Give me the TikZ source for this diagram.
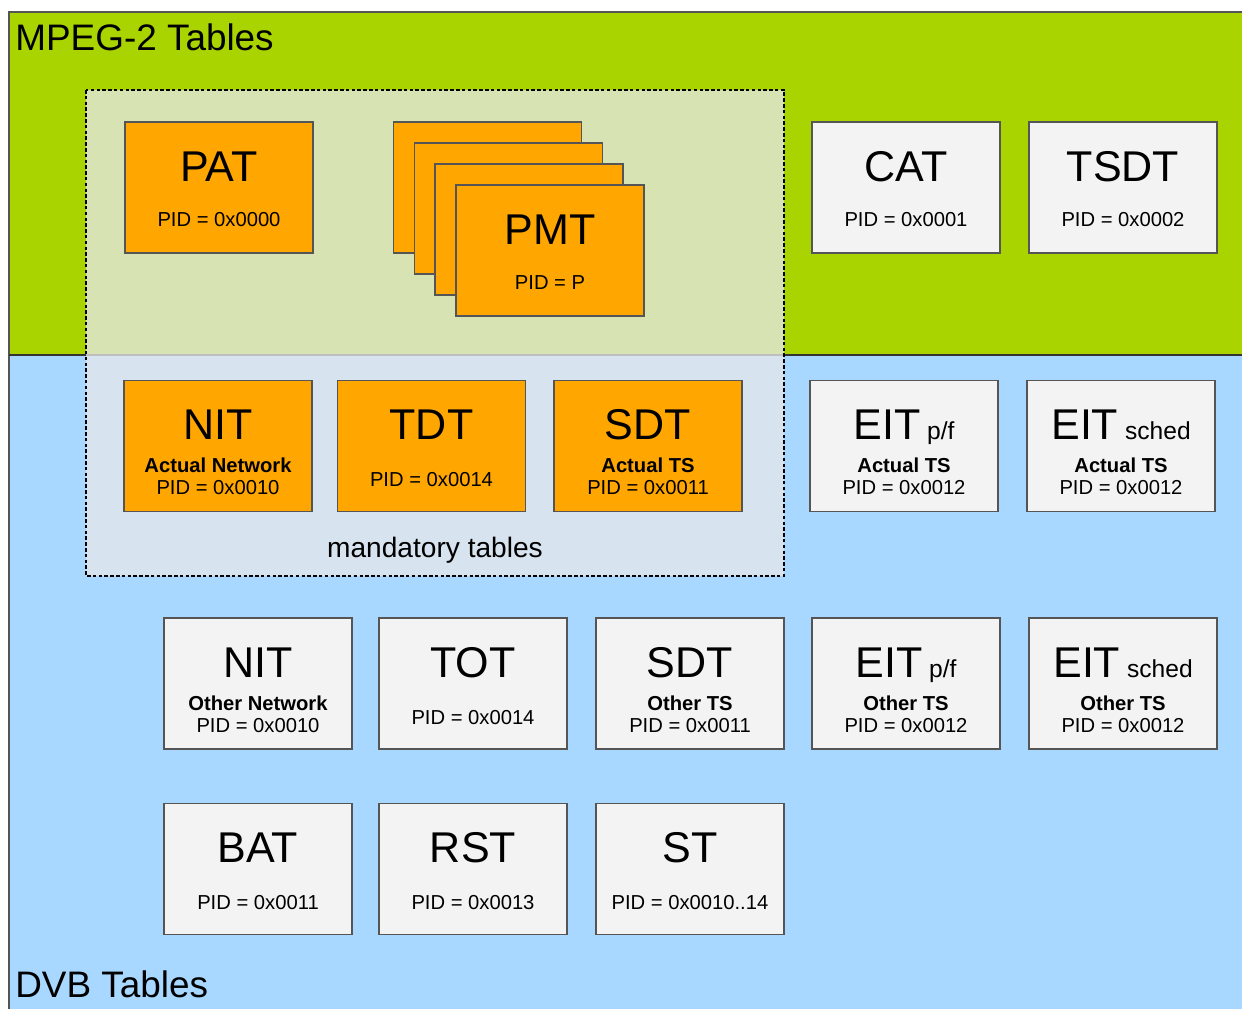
\documentclass[tikz,border=0pt]{standalone}
\usepackage{fontspec}
\setmainfont{Liberation Sans}
\usepackage{tikz}
\usetikzlibrary{calc}
\definecolor{mpeggreen}{RGB}{170,212,0}
\definecolor{dvbblue}{RGB}{168,216,255}
\definecolor{mandgreen}{RGB}{215,227,179}
\definecolor{mandblue}{RGB}{215,227,238}
\definecolor{tblorange}{RGB}{255,166,0}
\definecolor{tblgray}{RGB}{243,243,243}
\definecolor{tbledge}{RGB}{85,85,85}

\begin{document}
\begin{tikzpicture}[x=0.02cm, y=-0.02cm,
  tbl/.style={draw=tbledge, line width=0.9pt, minimum width=3.76cm, minimum height=2.62cm, inner sep=0pt},
  mand/.style={tbl, fill=tblorange},
  optl/.style={tbl, fill=tblgray},
  ttl/.style={anchor=base, inner sep=0pt, font=\fontsize{24.5}{26}\selectfont},
  sub/.style={anchor=base, inner sep=0pt, font=\bfseries\fontsize{11.5}{13}\selectfont},
  pid/.style={anchor=base, inner sep=0pt, font=\fontsize{11.5}{13}\selectfont},
  grp/.style={anchor=base west, inner sep=0pt, font=\fontsize{21}{23}\selectfont}]
\useasboundingbox (0,0) rectangle (1242,1009);

% group areas
\fill[mpeggreen] (9,12) rectangle (1242,355);
\fill[dvbblue] (9,355) rectangle (1242,1009);
\draw[tbledge, line width=1pt] (1242,12) -- (9,12) -- (9,1009);
\draw[black!80, line width=1pt] (9,355) -- (1242,355);

% mandatory area
\fill[mandgreen] (86,90) rectangle (784,355);
\fill[mandblue] (86,355) rectangle (784,576);
\draw[black!25, line width=0.6pt] (86,355) -- (784,355);
\draw[line width=0.9pt, dash pattern=on 2pt off 1.3pt] (86,90) rectangle (784,576);
\node[anchor=base, inner sep=0pt, font=\fontsize{16}{18}\selectfont] (mandlbl) at (435,557) {mandatory tables};

\node[grp] (mpeglbl) at (15,50) {MPEG-2 Tables};
\node[grp] (dvblbl) at (15,997) {DVB Tables};

% MPEG-2 row
\node[mand] (pat) at (219,187.5) {};
\node[ttl] (pat-t) at ($(pat.north)+(0,60)$) {PAT};
\node[pid] (pat-p) at ($(pat.north)+(0,105)$) {PID = 0x0000};

\node[mand] (pmta) at (487.5,187.5) {};
\node[mand] (pmtb) at (508.5,208.5) {};
\node[mand] (pmtc) at (529,229.5) {};
\node[mand] (pmt) at (550,250.5) {};
\node[ttl] (pmt-t) at ($(pmt.north)+(0,60)$) {PMT};
\node[pid] (pmt-p) at ($(pmt.north)+(0,105)$) {PID = P};

\node[optl] (cat) at (906,187.5) {};
\node[ttl] (cat-t) at ($(cat.north)+(0,60)$) {CAT};
\node[pid] (cat-p) at ($(cat.north)+(0,105)$) {PID = 0x0001};

\node[optl] (tsdt) at (1123,187.5) {};
\node[ttl] (tsdt-t) at ($(tsdt.north)+(0,60)$) {TSDT};
\node[pid] (tsdt-p) at ($(tsdt.north)+(0,105)$) {PID = 0x0002};

% actual row
\node[mand] (nita) at (218,446) {};
\node[ttl] (nita-t) at ($(nita.north)+(0,60)$) {NIT};
\node[sub] (nita-s) at ($(nita.north)+(0,93)$) {Actual Network};
\node[pid] (nita-p) at ($(nita.north)+(0,115)$) {PID = 0x0010};

\node[mand] (tdt) at (431.5,446) {};
\node[ttl] (tdt-t) at ($(tdt.north)+(0,60)$) {TDT};
\node[pid] (tdt-p) at ($(tdt.north)+(0,107)$) {PID = 0x0014};

\node[mand] (sdta) at (648,446) {};
\node[ttl] (sdta-t) at ($(sdta.north)+(0,60)$) {SDT};
\node[sub] (sdta-s) at ($(sdta.north)+(0,93)$) {Actual TS};
\node[pid] (sdta-p) at ($(sdta.north)+(0,115)$) {PID = 0x0011};

\node[optl] (eitpfa) at (904,446) {};
\node[ttl] (eitpfa-t) at ($(eitpfa.north)+(0,60)$) {EIT{\fontsize{14}{14}\selectfont\ p/f}};
\node[sub] (eitpfa-s) at ($(eitpfa.north)+(0,93)$) {Actual TS};
\node[pid] (eitpfa-p) at ($(eitpfa.north)+(0,115)$) {PID = 0x0012};

\node[optl] (eitscha) at (1121,446) {};
\node[ttl] (eitscha-t) at ($(eitscha.north)+(0,60)$) {EIT{\fontsize{14}{14}\selectfont\ sched}};
\node[sub] (eitscha-s) at ($(eitscha.north)+(0,93)$) {Actual TS};
\node[pid] (eitscha-p) at ($(eitscha.north)+(0,115)$) {PID = 0x0012};

% other row
\node[optl] (nito) at (258,683.5) {};
\node[ttl] (nito-t) at ($(nito.north)+(0,60)$) {NIT};
\node[sub] (nito-s) at ($(nito.north)+(0,93)$) {Other Network};
\node[pid] (nito-p) at ($(nito.north)+(0,115)$) {PID = 0x0010};

\node[optl] (tot) at (473,683.5) {};
\node[ttl] (tot-t) at ($(tot.north)+(0,60)$) {TOT};
\node[pid] (tot-p) at ($(tot.north)+(0,107)$) {PID = 0x0014};

\node[optl] (sdto) at (690,683.5) {};
\node[ttl] (sdto-t) at ($(sdto.north)+(0,60)$) {SDT};
\node[sub] (sdto-s) at ($(sdto.north)+(0,93)$) {Other TS};
\node[pid] (sdto-p) at ($(sdto.north)+(0,115)$) {PID = 0x0011};

\node[optl] (eitpfo) at (906,683.5) {};
\node[ttl] (eitpfo-t) at ($(eitpfo.north)+(0,60)$) {EIT{\fontsize{14}{14}\selectfont\ p/f}};
\node[sub] (eitpfo-s) at ($(eitpfo.north)+(0,93)$) {Other TS};
\node[pid] (eitpfo-p) at ($(eitpfo.north)+(0,115)$) {PID = 0x0012};

\node[optl] (eitscho) at (1123,683.5) {};
\node[ttl] (eitscho-t) at ($(eitscho.north)+(0,60)$) {EIT{\fontsize{14}{14}\selectfont\ sched}};
\node[sub] (eitscho-s) at ($(eitscho.north)+(0,93)$) {Other TS};
\node[pid] (eitscho-p) at ($(eitscho.north)+(0,115)$) {PID = 0x0012};

% bottom row
\node[optl] (bat) at (258,869) {};
\node[ttl] (bat-t) at ($(bat.north)+(0,60)$) {BAT};
\node[pid] (bat-p) at ($(bat.north)+(0,107)$) {PID = 0x0011};

\node[optl] (rst) at (473,869) {};
\node[ttl] (rst-t) at ($(rst.north)+(0,60)$) {RST};
\node[pid] (rst-p) at ($(rst.north)+(0,107)$) {PID = 0x0013};

\node[optl] (st) at (690,869) {};
\node[ttl] (st-t) at ($(st.north)+(0,60)$) {ST};
\node[pid] (st-p) at ($(st.north)+(0,107)$) {PID = 0x0010..14};
\end{tikzpicture}
\end{document}
